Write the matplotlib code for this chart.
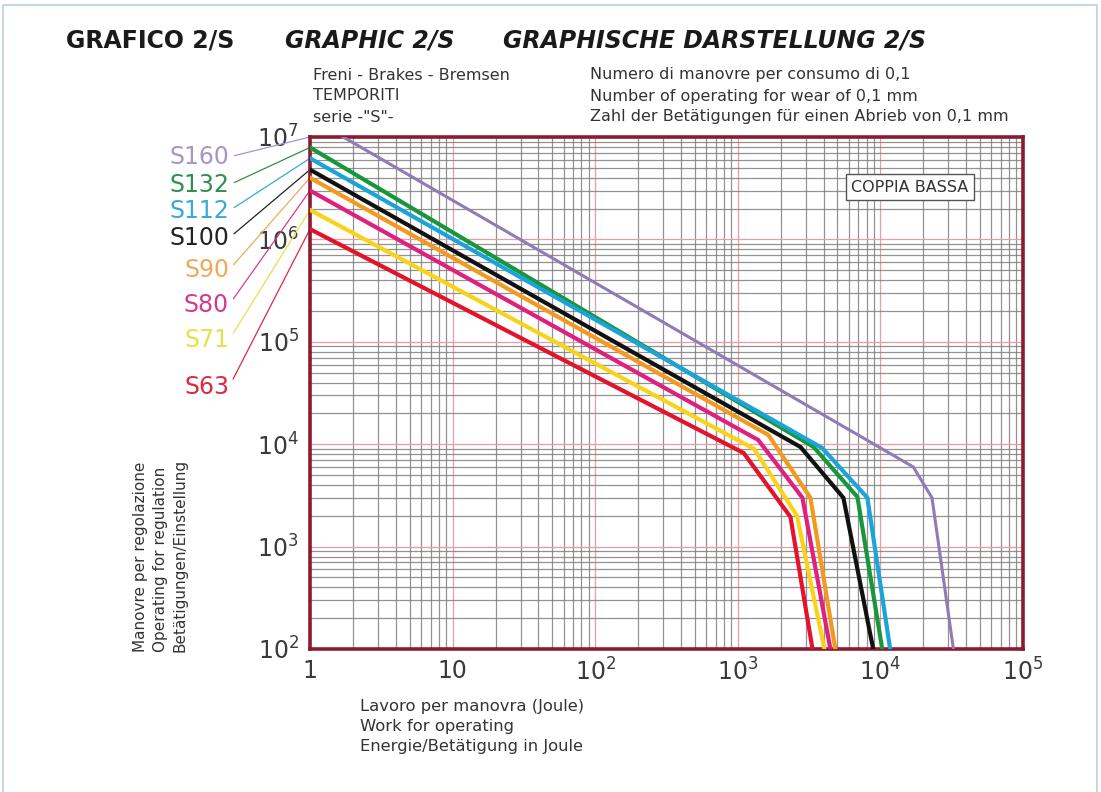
import matplotlib
matplotlib.use("Agg")
import matplotlib.pyplot as plt
from matplotlib.lines import Line2D
from matplotlib.ticker import FixedLocator, LogLocator, NullFormatter

# ---------------- data ----------------
series_names = ["S160", "S132", "S112", "S100", "S90", "S80", "S71", "S63"]

s160_x = [1, 17000, 23000, 32500]
s160_y = [1.54e7, 6000, 3000, 100]
s132_x = [1, 3400, 6900, 10300]
s132_y = [7.9e6, 9400, 3050, 100]
s112_x = [1, 3900, 8100, 11700]
s112_y = [6.2e6, 9200, 3000, 100]
s100_x = [1, 2750, 5500, 8900]
s100_y = [4.8e6, 9400, 3000, 100]
s90_x = [1, 1640, 3230, 4830]
s90_y = [4.0e6, 12300, 3000, 100]
s80_x = [1, 1390, 2840, 4460]
s80_y = [3.0e6, 11000, 3000, 100]
s71_x = [1, 1300, 2600, 4050]
s71_y = [1.94e6, 9000, 2000, 100]
s63_x = [1, 1100, 2340, 3340]
s63_y = [1.26e6, 8200, 1950, 100]

x_ticks = [1, 10, 100, 1000, 10000, 100000]
x_ticklabels = ["1", "10", "$10^{2}$", "$10^{3}$", "$10^{4}$", "$10^{5}$"]
y_ticks = [1e2, 1e3, 1e4, 1e5, 1e6, 1e7]
y_ticklabels = ["$10^{2}$", "$10^{3}$", "$10^{4}$", "$10^{5}$", "$10^{6}$", "$10^{7}$"]

title_parts = ["GRAFICO 2/S", "GRAPHIC 2/S", "GRAPHISCHE DARSTELLUNG 2/S"]
sub_left = ["Freni - Brakes - Bremsen", "TEMPORITI", "serie -\"S\"-"]
sub_right = ["Numero di manovre per consumo di 0,1",
             "Number of operating for wear of 0,1 mm",
             "Zahl der Betätigungen für einen Abrieb von 0,1 mm"]
xlabel_lines = ["Lavoro per manovra (Joule)", "Work for operating",
                "Energie/Betätigung in Joule"]
ylabel_lines = ["Manovre per regolazione", "Operating for regulation",
                "Betätigungen/Einstellung"]
box_label = "COPPIA BASSA"

# ---------------- style ----------------
line_colors = ["#8f7cb6", "#17963c", "#1ba4da", "#111111",
               "#f39a1e", "#e0207f", "#f8d31a", "#e3132c"]
label_colors = ["#a795c8", "#2f9050", "#3aa8d8", "#222222",
                "#f2a85a", "#d63a90", "#e6e04a", "#d82a40"]
line_widths = [2.2, 3.0, 3.0, 3.0, 3.0, 3.0, 3.0, 3.0]
label_y_px = [157, 185, 211, 238, 270, 305, 340, 387]

xs = [s160_x, s132_x, s112_x, s100_x, s90_x, s80_x, s71_x, s63_x]
ys = [s160_y, s132_y, s112_y, s100_y, s90_y, s80_y, s71_y, s63_y]

W, H = 1101, 792
narrow = ["Liberation Sans Narrow", "DejaVu Sans"]

fig = plt.figure(figsize=(W / 100, H / 100), dpi=100)
fig.patch.set_facecolor("white")

ax = fig.add_axes([310 / W, 1 - 649 / H, 713 / W, 512 / H])
ax.set_xscale("log")
ax.set_yscale("log")
ax.set_xlim(1, 1e5)
ax.set_ylim(1e2, 1e7)

# grid
ax.xaxis.set_minor_locator(LogLocator(base=10, subs=range(2, 10), numticks=50))
ax.yaxis.set_minor_locator(LogLocator(base=10, subs=range(2, 10), numticks=50))
ax.xaxis.set_minor_formatter(NullFormatter())
ax.yaxis.set_minor_formatter(NullFormatter())
ax.grid(which="minor", color="#7f7f7f", lw=0.9, alpha=0.85)
ax.grid(which="major", color="#ec9aa3", lw=0.9)
ax.set_axisbelow(True)

for sp in ax.spines.values():
    sp.set_color("#8c1a30")
    sp.set_linewidth(2.6)

ax.xaxis.set_major_locator(FixedLocator(x_ticks))
ax.set_xticklabels(x_ticklabels)
ax.yaxis.set_major_locator(FixedLocator(y_ticks))
ax.set_yticklabels(y_ticklabels)
ax.tick_params(which="both", length=0)
ax.tick_params(axis="x", pad=7, labelsize=17, labelcolor="#3a3a3a")
ax.tick_params(axis="y", pad=8, labelsize=17, labelcolor="#3a3a3a")
for lab in ax.get_yticklabels():
    lab.set_bbox(dict(facecolor="white", edgecolor="none", pad=0.5))
    lab.set_zorder(5)

for x, y, c, lw in zip(xs, ys, line_colors, line_widths):
    ax.plot(x, y, color=c, lw=lw, solid_joinstyle="miter", zorder=3)

# legend labels with leader lines to curve start
for name, x, y, c, lc, py in zip(series_names, xs, ys, line_colors,
                                 label_colors, label_y_px):
    ax.annotate(name, xy=(x[0], min(y[0], 1e7)), xycoords="data",
                xytext=(229, H - py), textcoords="figure pixels",
                ha="right", va="center", fontsize=17, color=lc,
                annotation_clip=False, zorder=1,
                arrowprops=dict(arrowstyle="-", color=lc, lw=0.9,
                                relpos=(1, 0.5), shrinkA=2, shrinkB=0))

# COPPIA BASSA box
ax.text(0.8415, 0.902, box_label, transform=ax.transAxes, ha="center",
        va="center", fontsize=11.5, color="#333333", family=narrow,
        bbox=dict(facecolor="white", edgecolor="#555555", lw=1.0,
                  boxstyle="square,pad=0.35"))

# titles
tx = [66, 285, 503]
tstyle = ["normal", "italic", "italic"]
for t, x0, st in zip(title_parts, tx, tstyle):
    fig.text(x0 / W, 1 - 40 / H, t, ha="left", va="center", fontsize=17,
             fontweight="bold", style=st, color="#1a1a1a", family=narrow)

for i, t in enumerate(sub_left):
    fig.text(313 / W, 1 - (75 + 21 * i) / H, t, ha="left", va="center",
             fontsize=11.5, color="#333333", family=narrow)
for i, t in enumerate(sub_right):
    fig.text(590 / W, 1 - (75 + 21 * i) / H, t, ha="left", va="center",
             fontsize=11.5, color="#333333", family=narrow)

for i, t in enumerate(xlabel_lines):
    fig.text(360 / W, 1 - (707 + 20 * i) / H, t, ha="left", va="center",
             fontsize=11.8, color="#333333", family=narrow)
for i, t in enumerate(ylabel_lines):
    fig.text((140 + 20 * i) / W, 1 - 652 / H, t, ha="center", va="bottom",
             rotation=90, fontsize=11, color="#333333", family=narrow)

# page frame
fig.add_artist(Line2D([3 / W, 3 / W, 1097 / W, 1097 / W],
                      [0, 1 - 5 / H, 1 - 5 / H, 0],
                      transform=fig.transFigure, color="#b9cfe0", lw=1.2))

fig.savefig("out.png", dpi=100)
